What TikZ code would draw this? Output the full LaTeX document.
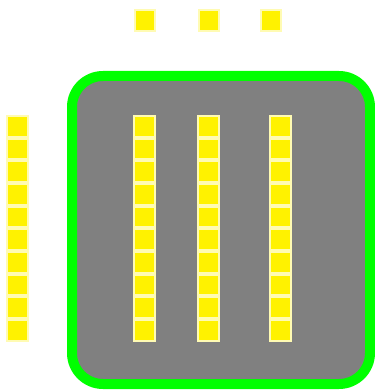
\documentclass[tikz,border=0pt]{standalone}
\usepackage{tikz}
\usetikzlibrary{positioning}

\begin{document}
\begin{tikzpicture}[
				x=1pt, y=-1pt,
				node distance=0.17pt,
				cell/.style={
					draw=yellow!30,
					fill=yellow,
					line width=2pt,
					rectangle,
					minimum size=20.5pt,
					inner sep=0pt
				},
				panel/.style={
					draw=green,
					fill=gray,
					line width=10pt,
					rectangle,
					rounded corners=31pt,
					minimum width=298pt,
					minimum height=308pt,
					inner sep=0pt
				}
				]
				
				\useasboundingbox (0,0) rectangle (374,390);
				
				% Panel
				\node[panel] (panel) at (221,230) {};
				
				% Fila superior
				\node[cell] (top1) at (145,20.5) {};
				\node[cell] (top2) at (209,20.5) {};
				\node[cell] (top3) at (271,20.5) {};
				
				% Columnas
				\node[cell] (l1) at (17.5,126.3) {};
				\node[cell] (a1) at (144.7,126.3) {};
				\node[cell] (b1) at (208.7,126.3) {};
				\node[cell] (c1) at (280.5,126.3) {};
				\foreach \i [count=\j from 2] in {1,...,9} {
					\node[cell, below=of l\i] (l\j) {};
					\node[cell, below=of a\i] (a\j) {};
					\node[cell, below=of b\i] (b\j) {};
					\node[cell, below=of c\i] (c\j) {};
				}
				
			\end{tikzpicture}
\end{document}
